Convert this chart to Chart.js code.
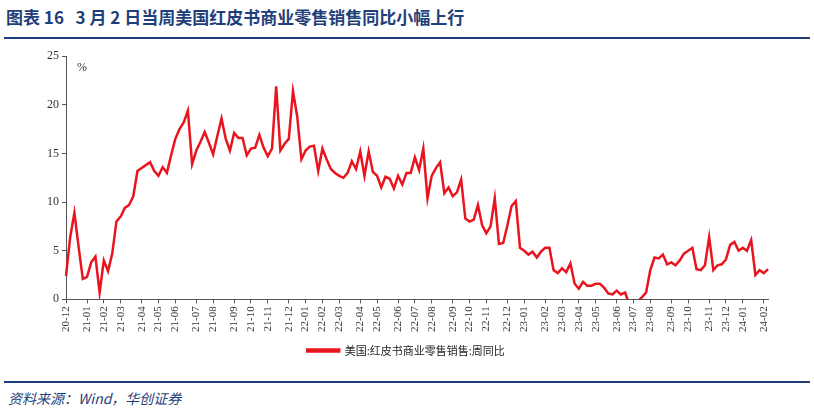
<!DOCTYPE html>
<html>
<head>
<meta charset="utf-8">
<script src="https://cdn.jsdelivr.net/npm/chart.js@4"></script>
<style>
body { margin:0; width:814px; height:414px; background:#fff; font-family:"Noto Sans CJK SC", sans-serif; position:relative; overflow:hidden; }
#title { position:absolute; left:6px; top:4px; font-size:17px; font-weight:bold; color:#1f3f7a; font-family:"Noto Sans CJK SC", serif; }
.rule { position:absolute; left:4px; width:806px; height:2px; background:#1f3f7a; }
#src { position:absolute; left:8px; top:388px; font-size:14px; font-style:italic; color:#1f3f7a; }
#pct { position:absolute; left:77px; top:60px; font-size:12px; color:#333; font-family:"Liberation Serif", serif; }
#wrap { position:absolute; left:0; top:46px; width:814px; height:320px; }
</style>
</head>
<body>
<div id="title">图表 16&nbsp;&nbsp;&nbsp;3 月 2 日当周美国红皮书商业零售销售同比小幅上行</div>
<div class="rule" style="top:37px"></div>
<div id="wrap"><canvas id="myChart"></canvas></div>
<div id="pct">%</div>
<div class="rule" style="top:381px"></div>
<div id="src">资料来源：Wind，华创证券</div>
<script>
const seriesName = '美国:红皮书商业零售销售:周同比';
const startDate = '2020-12-01';
const values = [
  2.4, 6.4, 8.9, 5.4, 2.1, 2.3, 3.8, 4.4, 0.7, 4.0, 2.9, 4.7, 8.0, 8.5, 9.4, 9.7, 10.6,
  13.2, 13.5, 13.8, 14.1, 13.2, 12.7, 13.6, 13.0, 14.8, 16.5, 17.5, 18.2, 19.4, 13.9,
  15.3, 16.2, 17.2, 16.1, 14.9, 16.8, 18.6, 16.5, 15.3, 17.1, 16.6, 16.6, 14.8, 15.5,
  15.6, 16.9, 15.6, 14.7, 15.5, 21.9, 15.3, 16.0, 16.5, 21.4, 18.8, 14.4, 15.3, 15.7,
  15.8, 13.2, 15.5, 14.4, 13.4, 13.0, 12.7, 12.5, 13.0, 14.2, 13.4, 15.2, 12.7, 15.2,
  13.1, 12.7, 11.5, 12.6, 12.4, 11.4, 12.7, 11.8, 13.0, 13.0, 14.6, 13.3, 15.5,
  10.4, 12.7, 13.5, 14.1, 10.9, 11.5, 10.6, 11.0, 12.3, 8.3, 8.0, 8.2, 9.7, 7.6, 6.8,
  7.5, 10.4, 5.7, 5.8, 7.6, 9.6, 10.1, 5.3, 5.0, 4.6, 4.9, 4.3, 4.9, 5.3, 5.3, 3.0,
  2.7, 3.2, 2.8, 3.7, 1.6, 1.1, 1.8, 1.4, 1.4, 1.6, 1.6, 1.2, 0.6, 0.5, 0.9, 0.5, 0.7,
  -0.5, -0.8, -0.2, 0.2, 0.7, 3.0, 4.3, 4.2, 4.6, 3.6, 3.8, 3.5, 4.0, 4.7, 5.0, 5.3,
  3.1, 3.0, 3.5, 6.4, 3.0, 3.5, 3.6, 4.1, 5.6, 5.9, 5.0, 5.3, 5.0, 6.1, 2.5, 3.0, 2.7, 3.1
];
const yTicks = [0, 5, 10, 15, 20, 25];

// weekly category labels "yy-mm"
const labels = [];
let d = new Date(startDate + 'T00:00:00Z');
for (let i = 0; i < values.length; i++) {
  const yy = String(d.getUTCFullYear()).slice(2);
  const mm = String(d.getUTCMonth() + 1).padStart(2, '0');
  labels.push(yy + '-' + mm);
  d = new Date(d.getTime() + 7 * 86400000);
}
const isMonthStart = i => i === 0 || labels[i] !== labels[i - 1];

const ctx = document.getElementById('myChart').getContext('2d');
new Chart(ctx, {
  type: 'line',
  data: {
    labels: labels,
    datasets: [{
      label: seriesName,
      data: values,
      borderColor: '#e8141e',
      backgroundColor: '#e8141e',
      borderWidth: 2.5,
      pointRadius: 0,
      tension: 0
    }]
  },
  options: {
    responsive: true,
    maintainAspectRatio: false,
    animation: false,
    layout: { padding: { left: 44, right: 46, top: 8, bottom: 0 } },
    plugins: {
      legend: {
        position: 'bottom',
        labels: { boxWidth: 32, boxHeight: 2, font: { size: 11, family: '"Noto Sans CJK SC"' }, color: '#222' }
      },
      tooltip: { enabled: false }
    },
    scales: {
      x: {
        offset: false,
        grid: {
          drawOnChartArea: false,
          tickLength: 4,
          color: c => isMonthStart(c.index) ? '#555' : 'rgba(0,0,0,0)'
        },
        border: { color: '#555' },
        ticks: {
          autoSkip: false,
          minRotation: 90,
          maxRotation: 90,
          font: { size: 11, family: '"Liberation Serif"' },
          color: '#333',
          callback: (v, i) => isMonthStart(i) ? labels[i] : ''
        }
      },
      y: {
        min: 0,
        max: 25,
        afterBuildTicks: axis => { axis.ticks = yTicks.map(v => ({ value: v })); },
        grid: { drawOnChartArea: false, tickLength: 4, color: '#555' },
        border: { color: '#555' },
        ticks: { font: { size: 12, family: '"Liberation Serif"' }, color: '#333' }
      }
    }
  }
});
</script>
</body>
</html>
